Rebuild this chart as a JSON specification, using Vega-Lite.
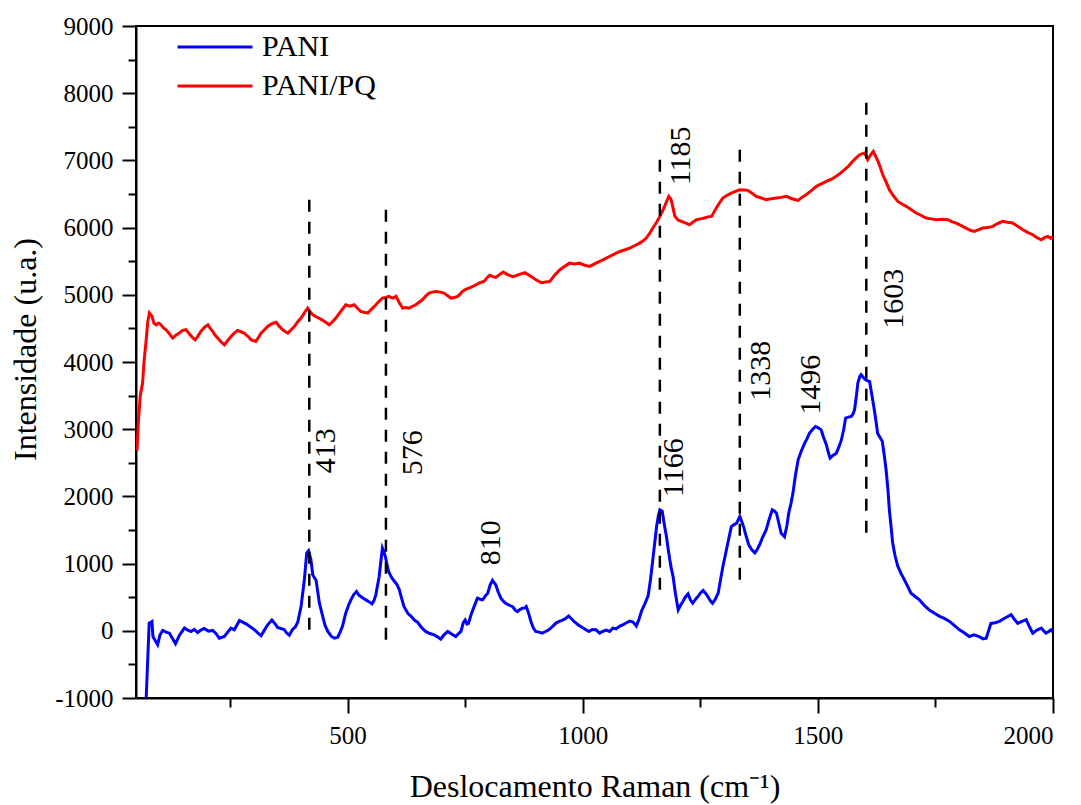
{
  "$schema": "https://vega.github.io/schema/vega-lite/v6.json",
  "autosize": "none",
  "padding": {"left": 136, "top": 26, "right": 28, "bottom": 107},
  "width": 917,
  "height": 672,
  "config": {
    "font": "Liberation Serif",
    "view": {"stroke": "black", "strokeWidth": 2},
    "axis": {
      "grid": false,
      "domainColor": "black",
      "domainWidth": 2,
      "tickColor": "black",
      "tickWidth": 2,
      "labelFont": "Liberation Serif",
      "labelFontSize": 25,
      "labelColor": "black",
      "titleFont": "Liberation Serif",
      "titleFontSize": 32,
      "titleFontWeight": "normal",
      "titleColor": "black"
    }
  },
  "datasets": {
    "spectra": [
      {"s":"PANI","x":70,"y":-1300},{"s":"PANI","x":78,"y":115},{"s":"PANI","x":84,"y":138},{"s":"PANI","x":86,"y":-85},{"s":"PANI","x":96,"y":-208},{"s":"PANI","x":101,"y":-60},{"s":"PANI","x":107,"y":5},{"s":"PANI","x":114,"y":-20},{"s":"PANI","x":121,"y":-35},{"s":"PANI","x":128,"y":-120},{"s":"PANI","x":134,"y":-193},{"s":"PANI","x":142,"y":-70},{"s":"PANI","x":153,"y":40},{"s":"PANI","x":160,"y":10},{"s":"PANI","x":167,"y":-10},{"s":"PANI","x":174,"y":20},{"s":"PANI","x":181,"y":-25},{"s":"PANI","x":188,"y":10},{"s":"PANI","x":195,"y":35},{"s":"PANI","x":204,"y":-5},{"s":"PANI","x":213,"y":5},{"s":"PANI","x":220,"y":-40},{"s":"PANI","x":227,"y":-109},{"s":"PANI","x":238,"y":-85},{"s":"PANI","x":245,"y":-20},{"s":"PANI","x":252,"y":40},{"s":"PANI","x":259,"y":15},{"s":"PANI","x":265,"y":90},{"s":"PANI","x":270,"y":153},{"s":"PANI","x":277,"y":130},{"s":"PANI","x":284,"y":104},{"s":"PANI","x":293,"y":60},{"s":"PANI","x":302,"y":15},{"s":"PANI","x":309,"y":-30},{"s":"PANI","x":316,"y":-74},{"s":"PANI","x":323,"y":10},{"s":"PANI","x":330,"y":89},{"s":"PANI","x":339,"y":160},{"s":"PANI","x":345,"y":110},{"s":"PANI","x":351,"y":50},{"s":"PANI","x":358,"y":35},{"s":"PANI","x":365,"y":20},{"s":"PANI","x":370,"y":-30},{"s":"PANI","x":376,"y":-65},{"s":"PANI","x":383,"y":20},{"s":"PANI","x":389,"y":60},{"s":"PANI","x":394,"y":130},{"s":"PANI","x":401,"y":362},{"s":"PANI","x":408,"y":759},{"s":"PANI","x":413,"y":1156},{"s":"PANI","x":417,"y":1190},{"s":"PANI","x":422,"y":1057},{"s":"PANI","x":426,"y":830},{"s":"PANI","x":433,"y":750},{"s":"PANI","x":440,"y":412},{"s":"PANI","x":447,"y":215},{"s":"PANI","x":452,"y":80},{"s":"PANI","x":458,"y":-10},{"s":"PANI","x":465,"y":-80},{"s":"PANI","x":472,"y":-110},{"s":"PANI","x":479,"y":-95},{"s":"PANI","x":484,"y":-20},{"s":"PANI","x":489,"y":65},{"s":"PANI","x":496,"y":263},{"s":"PANI","x":502,"y":380},{"s":"PANI","x":507,"y":461},{"s":"PANI","x":513,"y":540},{"s":"PANI","x":519,"y":585},{"s":"PANI","x":524,"y":530},{"s":"PANI","x":528,"y":510},{"s":"PANI","x":534,"y":480},{"s":"PANI","x":539,"y":460},{"s":"PANI","x":546,"y":430},{"s":"PANI","x":552,"y":400},{"s":"PANI","x":556,"y":450},{"s":"PANI","x":560,"y":535},{"s":"PANI","x":567,"y":805},{"s":"PANI","x":571,"y":1050},{"s":"PANI","x":574,"y":1231},{"s":"PANI","x":577,"y":1180},{"s":"PANI","x":580,"y":1110},{"s":"PANI","x":587,"y":885},{"s":"PANI","x":593,"y":800},{"s":"PANI","x":599,"y":740},{"s":"PANI","x":605,"y":690},{"s":"PANI","x":610,"y":610},{"s":"PANI","x":615,"y":480},{"s":"PANI","x":620,"y":360},{"s":"PANI","x":628,"y":260},{"s":"PANI","x":635,"y":215},{"s":"PANI","x":642,"y":160},{"s":"PANI","x":649,"y":125},{"s":"PANI","x":657,"y":50},{"s":"PANI","x":666,"y":-10},{"s":"PANI","x":675,"y":-40},{"s":"PANI","x":684,"y":-60},{"s":"PANI","x":691,"y":-90},{"s":"PANI","x":698,"y":-125},{"s":"PANI","x":705,"y":-60},{"s":"PANI","x":713,"y":-10},{"s":"PANI","x":722,"y":-50},{"s":"PANI","x":730,"y":-85},{"s":"PANI","x":736,"y":-40},{"s":"PANI","x":741,"y":-10},{"s":"PANI","x":746,"y":120},{"s":"PANI","x":750,"y":160},{"s":"PANI","x":754,"y":100},{"s":"PANI","x":757,"y":110},{"s":"PANI","x":763,"y":250},{"s":"PANI","x":769,"y":360},{"s":"PANI","x":776,"y":485},{"s":"PANI","x":782,"y":470},{"s":"PANI","x":787,"y":460},{"s":"PANI","x":793,"y":520},{"s":"PANI","x":798,"y":560},{"s":"PANI","x":803,"y":680},{"s":"PANI","x":808,"y":750},{"s":"PANI","x":815,"y":685},{"s":"PANI","x":820,"y":580},{"s":"PANI","x":826,"y":485},{"s":"PANI","x":831,"y":440},{"s":"PANI","x":836,"y":410},{"s":"PANI","x":844,"y":380},{"s":"PANI","x":851,"y":360},{"s":"PANI","x":856,"y":310},{"s":"PANI","x":861,"y":285},{"s":"PANI","x":867,"y":320},{"s":"PANI","x":872,"y":335},{"s":"PANI","x":877,"y":340},{"s":"PANI","x":880,"y":360},{"s":"PANI","x":885,"y":260},{"s":"PANI","x":890,"y":135},{"s":"PANI","x":895,"y":40},{"s":"PANI","x":900,"y":-10},{"s":"PANI","x":907,"y":-20},{"s":"PANI","x":914,"y":-35},{"s":"PANI","x":921,"y":-10},{"s":"PANI","x":928,"y":15},{"s":"PANI","x":935,"y":60},{"s":"PANI","x":943,"y":115},{"s":"PANI","x":950,"y":140},{"s":"PANI","x":957,"y":160},{"s":"PANI","x":963,"y":180},{"s":"PANI","x":970,"y":220},{"s":"PANI","x":976,"y":180},{"s":"PANI","x":982,"y":135},{"s":"PANI","x":990,"y":90},{"s":"PANI","x":999,"y":50},{"s":"PANI","x":1006,"y":20},{"s":"PANI","x":1013,"y":-10},{"s":"PANI","x":1020,"y":20},{"s":"PANI","x":1028,"y":15},{"s":"PANI","x":1036,"y":-35},{"s":"PANI","x":1042,"y":-10},{"s":"PANI","x":1050,"y":10},{"s":"PANI","x":1057,"y":-10},{"s":"PANI","x":1064,"y":40},{"s":"PANI","x":1071,"y":30},{"s":"PANI","x":1079,"y":70},{"s":"PANI","x":1086,"y":90},{"s":"PANI","x":1093,"y":120},{"s":"PANI","x":1100,"y":145},{"s":"PANI","x":1107,"y":130},{"s":"PANI","x":1114,"y":70},{"s":"PANI","x":1120,"y":180},{"s":"PANI","x":1125,"y":295},{"s":"PANI","x":1132,"y":400},{"s":"PANI","x":1139,"y":520},{"s":"PANI","x":1144,"y":760},{"s":"PANI","x":1149,"y":1060},{"s":"PANI","x":1153,"y":1300},{"s":"PANI","x":1157,"y":1552},{"s":"PANI","x":1161,"y":1720},{"s":"PANI","x":1164,"y":1801},{"s":"PANI","x":1169,"y":1780},{"s":"PANI","x":1173,"y":1600},{"s":"PANI","x":1178,"y":1403},{"s":"PANI","x":1181,"y":1250},{"s":"PANI","x":1185,"y":1060},{"s":"PANI","x":1188,"y":940},{"s":"PANI","x":1192,"y":810},{"s":"PANI","x":1197,"y":560},{"s":"PANI","x":1203,"y":312},{"s":"PANI","x":1208,"y":380},{"s":"PANI","x":1213,"y":435},{"s":"PANI","x":1218,"y":500},{"s":"PANI","x":1224,"y":550},{"s":"PANI","x":1229,"y":460},{"s":"PANI","x":1234,"y":410},{"s":"PANI","x":1240,"y":470},{"s":"PANI","x":1245,"y":510},{"s":"PANI","x":1250,"y":560},{"s":"PANI","x":1256,"y":600},{"s":"PANI","x":1261,"y":560},{"s":"PANI","x":1266,"y":510},{"s":"PANI","x":1271,"y":450},{"s":"PANI","x":1276,"y":410},{"s":"PANI","x":1282,"y":470},{"s":"PANI","x":1288,"y":560},{"s":"PANI","x":1293,"y":760},{"s":"PANI","x":1298,"y":957},{"s":"PANI","x":1303,"y":1120},{"s":"PANI","x":1307,"y":1255},{"s":"PANI","x":1312,"y":1420},{"s":"PANI","x":1316,"y":1550},{"s":"PANI","x":1322,"y":1580},{"s":"PANI","x":1327,"y":1600},{"s":"PANI","x":1334,"y":1701},{"s":"PANI","x":1338,"y":1630},{"s":"PANI","x":1342,"y":1550},{"s":"PANI","x":1347,"y":1420},{"s":"PANI","x":1353,"y":1280},{"s":"PANI","x":1360,"y":1200},{"s":"PANI","x":1366,"y":1160},{"s":"PANI","x":1371,"y":1210},{"s":"PANI","x":1376,"y":1280},{"s":"PANI","x":1383,"y":1400},{"s":"PANI","x":1390,"y":1500},{"s":"PANI","x":1396,"y":1650},{"s":"PANI","x":1403,"y":1800},{"s":"PANI","x":1408,"y":1780},{"s":"PANI","x":1412,"y":1750},{"s":"PANI","x":1417,"y":1600},{"s":"PANI","x":1422,"y":1450},{"s":"PANI","x":1429,"y":1400},{"s":"PANI","x":1434,"y":1560},{"s":"PANI","x":1438,"y":1750},{"s":"PANI","x":1443,"y":1900},{"s":"PANI","x":1447,"y":2049},{"s":"PANI","x":1452,"y":2300},{"s":"PANI","x":1458,"y":2545},{"s":"PANI","x":1465,"y":2680},{"s":"PANI","x":1472,"y":2793},{"s":"PANI","x":1477,"y":2860},{"s":"PANI","x":1482,"y":2940},{"s":"PANI","x":1489,"y":3000},{"s":"PANI","x":1495,"y":3040},{"s":"PANI","x":1501,"y":3020},{"s":"PANI","x":1507,"y":2990},{"s":"PANI","x":1512,"y":2880},{"s":"PANI","x":1518,"y":2770},{"s":"PANI","x":1522,"y":2660},{"s":"PANI","x":1526,"y":2570},{"s":"PANI","x":1532,"y":2610},{"s":"PANI","x":1539,"y":2640},{"s":"PANI","x":1545,"y":2740},{"s":"PANI","x":1550,"y":2840},{"s":"PANI","x":1555,"y":3000},{"s":"PANI","x":1559,"y":3165},{"s":"PANI","x":1565,"y":3180},{"s":"PANI","x":1571,"y":3190},{"s":"PANI","x":1575,"y":3230},{"s":"PANI","x":1578,"y":3290},{"s":"PANI","x":1582,"y":3500},{"s":"PANI","x":1585,"y":3686},{"s":"PANI","x":1589,"y":3780},{"s":"PANI","x":1592,"y":3810},{"s":"PANI","x":1597,"y":3770},{"s":"PANI","x":1601,"y":3740},{"s":"PANI","x":1606,"y":3720},{"s":"PANI","x":1610,"y":3710},{"s":"PANI","x":1615,"y":3500},{"s":"PANI","x":1620,"y":3290},{"s":"PANI","x":1624,"y":3100},{"s":"PANI","x":1627,"y":2940},{"s":"PANI","x":1632,"y":2880},{"s":"PANI","x":1637,"y":2820},{"s":"PANI","x":1641,"y":2620},{"s":"PANI","x":1645,"y":2400},{"s":"PANI","x":1649,"y":2100},{"s":"PANI","x":1652,"y":1800},{"s":"PANI","x":1656,"y":1530},{"s":"PANI","x":1659,"y":1310},{"s":"PANI","x":1664,"y":1120},{"s":"PANI","x":1670,"y":960},{"s":"PANI","x":1677,"y":850},{"s":"PANI","x":1684,"y":760},{"s":"PANI","x":1691,"y":660},{"s":"PANI","x":1698,"y":560},{"s":"PANI","x":1707,"y":510},{"s":"PANI","x":1716,"y":460},{"s":"PANI","x":1726,"y":380},{"s":"PANI","x":1737,"y":310},{"s":"PANI","x":1748,"y":260},{"s":"PANI","x":1759,"y":215},{"s":"PANI","x":1770,"y":180},{"s":"PANI","x":1780,"y":140},{"s":"PANI","x":1790,"y":80},{"s":"PANI","x":1801,"y":15},{"s":"PANI","x":1811,"y":-30},{"s":"PANI","x":1822,"y":-85},{"s":"PANI","x":1832,"y":-60},{"s":"PANI","x":1843,"y":-85},{"s":"PANI","x":1851,"y":-120},{"s":"PANI","x":1858,"y":-110},{"s":"PANI","x":1863,"y":0},{"s":"PANI","x":1868,"y":110},{"s":"PANI","x":1877,"y":120},{"s":"PANI","x":1886,"y":140},{"s":"PANI","x":1898,"y":190},{"s":"PANI","x":1911,"y":240},{"s":"PANI","x":1918,"y":170},{"s":"PANI","x":1925,"y":110},{"s":"PANI","x":1934,"y":140},{"s":"PANI","x":1943,"y":165},{"s":"PANI","x":1950,"y":60},{"s":"PANI","x":1957,"y":-35},{"s":"PANI","x":1966,"y":10},{"s":"PANI","x":1975,"y":40},{"s":"PANI","x":1980,"y":0},{"s":"PANI","x":1985,"y":-35},{"s":"PANI","x":1991,"y":-10},{"s":"PANI","x":1996,"y":15},{"s":"PANI","x":2000,"y":-20},
      {"s":"PANI/PQ","x":52,"y":2680},{"s":"PANI/PQ","x":55,"y":3100},{"s":"PANI/PQ","x":59,"y":3500},{"s":"PANI/PQ","x":64,"y":3686},{"s":"PANI/PQ","x":67,"y":4000},{"s":"PANI/PQ","x":71,"y":4281},{"s":"PANI/PQ","x":75,"y":4600},{"s":"PANI/PQ","x":78.5,"y":4728},{"s":"PANI/PQ","x":84,"y":4680},{"s":"PANI/PQ","x":88,"y":4580},{"s":"PANI/PQ","x":93,"y":4554},{"s":"PANI/PQ","x":98,"y":4580},{"s":"PANI/PQ","x":103,"y":4554},{"s":"PANI/PQ","x":108,"y":4510},{"s":"PANI/PQ","x":114,"y":4480},{"s":"PANI/PQ","x":121,"y":4420},{"s":"PANI/PQ","x":128,"y":4355},{"s":"PANI/PQ","x":135,"y":4400},{"s":"PANI/PQ","x":142,"y":4430},{"s":"PANI/PQ","x":149,"y":4470},{"s":"PANI/PQ","x":156,"y":4480},{"s":"PANI/PQ","x":161,"y":4440},{"s":"PANI/PQ","x":165,"y":4405},{"s":"PANI/PQ","x":171,"y":4360},{"s":"PANI/PQ","x":176,"y":4330},{"s":"PANI/PQ","x":182,"y":4390},{"s":"PANI/PQ","x":188,"y":4455},{"s":"PANI/PQ","x":196,"y":4520},{"s":"PANI/PQ","x":203,"y":4554},{"s":"PANI/PQ","x":208,"y":4500},{"s":"PANI/PQ","x":213,"y":4455},{"s":"PANI/PQ","x":218,"y":4400},{"s":"PANI/PQ","x":224,"y":4355},{"s":"PANI/PQ","x":231,"y":4300},{"s":"PANI/PQ","x":238,"y":4256},{"s":"PANI/PQ","x":245,"y":4320},{"s":"PANI/PQ","x":252,"y":4380},{"s":"PANI/PQ","x":259,"y":4430},{"s":"PANI/PQ","x":266,"y":4470},{"s":"PANI/PQ","x":273,"y":4450},{"s":"PANI/PQ","x":280,"y":4430},{"s":"PANI/PQ","x":288,"y":4380},{"s":"PANI/PQ","x":295,"y":4330},{"s":"PANI/PQ","x":305,"y":4306},{"s":"PANI/PQ","x":310,"y":4360},{"s":"PANI/PQ","x":316,"y":4430},{"s":"PANI/PQ","x":323,"y":4480},{"s":"PANI/PQ","x":330,"y":4530},{"s":"PANI/PQ","x":339,"y":4570},{"s":"PANI/PQ","x":348,"y":4590},{"s":"PANI/PQ","x":355,"y":4530},{"s":"PANI/PQ","x":362,"y":4480},{"s":"PANI/PQ","x":368,"y":4450},{"s":"PANI/PQ","x":373,"y":4430},{"s":"PANI/PQ","x":380,"y":4480},{"s":"PANI/PQ","x":387,"y":4530},{"s":"PANI/PQ","x":394,"y":4600},{"s":"PANI/PQ","x":401,"y":4653},{"s":"PANI/PQ","x":408,"y":4730},{"s":"PANI/PQ","x":415,"y":4802},{"s":"PANI/PQ","x":420,"y":4750},{"s":"PANI/PQ","x":426,"y":4703},{"s":"PANI/PQ","x":434,"y":4670},{"s":"PANI/PQ","x":443,"y":4638},{"s":"PANI/PQ","x":452,"y":4600},{"s":"PANI/PQ","x":461,"y":4554},{"s":"PANI/PQ","x":468,"y":4600},{"s":"PANI/PQ","x":475,"y":4653},{"s":"PANI/PQ","x":485,"y":4750},{"s":"PANI/PQ","x":496,"y":4852},{"s":"PANI/PQ","x":505,"y":4830},{"s":"PANI/PQ","x":514,"y":4852},{"s":"PANI/PQ","x":521,"y":4800},{"s":"PANI/PQ","x":528,"y":4752},{"s":"PANI/PQ","x":535,"y":4740},{"s":"PANI/PQ","x":543,"y":4728},{"s":"PANI/PQ","x":550,"y":4780},{"s":"PANI/PQ","x":557,"y":4827},{"s":"PANI/PQ","x":565,"y":4890},{"s":"PANI/PQ","x":574,"y":4951},{"s":"PANI/PQ","x":581,"y":4960},{"s":"PANI/PQ","x":588,"y":4976},{"s":"PANI/PQ","x":596,"y":4950},{"s":"PANI/PQ","x":603,"y":4976},{"s":"PANI/PQ","x":610,"y":4880},{"s":"PANI/PQ","x":617,"y":4802},{"s":"PANI/PQ","x":624,"y":4810},{"s":"PANI/PQ","x":631,"y":4802},{"s":"PANI/PQ","x":638,"y":4830},{"s":"PANI/PQ","x":645,"y":4852},{"s":"PANI/PQ","x":652,"y":4890},{"s":"PANI/PQ","x":659,"y":4926},{"s":"PANI/PQ","x":666,"y":4980},{"s":"PANI/PQ","x":673,"y":5026},{"s":"PANI/PQ","x":680,"y":5040},{"s":"PANI/PQ","x":688,"y":5050},{"s":"PANI/PQ","x":697,"y":5040},{"s":"PANI/PQ","x":705,"y":5026},{"s":"PANI/PQ","x":712,"y":4990},{"s":"PANI/PQ","x":720,"y":4951},{"s":"PANI/PQ","x":727,"y":4960},{"s":"PANI/PQ","x":734,"y":4976},{"s":"PANI/PQ","x":739,"y":5010},{"s":"PANI/PQ","x":744,"y":5050},{"s":"PANI/PQ","x":751,"y":5080},{"s":"PANI/PQ","x":758,"y":5100},{"s":"PANI/PQ","x":765,"y":5120},{"s":"PANI/PQ","x":773,"y":5150},{"s":"PANI/PQ","x":781,"y":5180},{"s":"PANI/PQ","x":790,"y":5200},{"s":"PANI/PQ","x":796,"y":5250},{"s":"PANI/PQ","x":802,"y":5290},{"s":"PANI/PQ","x":809,"y":5270},{"s":"PANI/PQ","x":815,"y":5260},{"s":"PANI/PQ","x":823,"y":5300},{"s":"PANI/PQ","x":831,"y":5340},{"s":"PANI/PQ","x":840,"y":5300},{"s":"PANI/PQ","x":852,"y":5270},{"s":"PANI/PQ","x":864,"y":5300},{"s":"PANI/PQ","x":877,"y":5330},{"s":"PANI/PQ","x":886,"y":5290},{"s":"PANI/PQ","x":895,"y":5250},{"s":"PANI/PQ","x":904,"y":5210},{"s":"PANI/PQ","x":912,"y":5180},{"s":"PANI/PQ","x":921,"y":5190},{"s":"PANI/PQ","x":930,"y":5200},{"s":"PANI/PQ","x":940,"y":5290},{"s":"PANI/PQ","x":951,"y":5370},{"s":"PANI/PQ","x":961,"y":5420},{"s":"PANI/PQ","x":972,"y":5471},{"s":"PANI/PQ","x":982,"y":5460},{"s":"PANI/PQ","x":993,"y":5471},{"s":"PANI/PQ","x":1004,"y":5440},{"s":"PANI/PQ","x":1015,"y":5422},{"s":"PANI/PQ","x":1025,"y":5460},{"s":"PANI/PQ","x":1036,"y":5496},{"s":"PANI/PQ","x":1046,"y":5530},{"s":"PANI/PQ","x":1057,"y":5570},{"s":"PANI/PQ","x":1068,"y":5610},{"s":"PANI/PQ","x":1079,"y":5645},{"s":"PANI/PQ","x":1090,"y":5670},{"s":"PANI/PQ","x":1100,"y":5695},{"s":"PANI/PQ","x":1110,"y":5730},{"s":"PANI/PQ","x":1121,"y":5769},{"s":"PANI/PQ","x":1128,"y":5800},{"s":"PANI/PQ","x":1135,"y":5844},{"s":"PANI/PQ","x":1142,"y":5910},{"s":"PANI/PQ","x":1149,"y":5993},{"s":"PANI/PQ","x":1157,"y":6080},{"s":"PANI/PQ","x":1164,"y":6167},{"s":"PANI/PQ","x":1170,"y":6250},{"s":"PANI/PQ","x":1174,"y":6316},{"s":"PANI/PQ","x":1179,"y":6400},{"s":"PANI/PQ","x":1183,"y":6465},{"s":"PANI/PQ","x":1186,"y":6440},{"s":"PANI/PQ","x":1188,"y":6415},{"s":"PANI/PQ","x":1192,"y":6290},{"s":"PANI/PQ","x":1196,"y":6167},{"s":"PANI/PQ","x":1203,"y":6110},{"s":"PANI/PQ","x":1210,"y":6093},{"s":"PANI/PQ","x":1218,"y":6070},{"s":"PANI/PQ","x":1227,"y":6043},{"s":"PANI/PQ","x":1234,"y":6080},{"s":"PANI/PQ","x":1242,"y":6118},{"s":"PANI/PQ","x":1250,"y":6130},{"s":"PANI/PQ","x":1259,"y":6143},{"s":"PANI/PQ","x":1266,"y":6160},{"s":"PANI/PQ","x":1274,"y":6167},{"s":"PANI/PQ","x":1279,"y":6230},{"s":"PANI/PQ","x":1284,"y":6292},{"s":"PANI/PQ","x":1291,"y":6370},{"s":"PANI/PQ","x":1298,"y":6440},{"s":"PANI/PQ","x":1307,"y":6480},{"s":"PANI/PQ","x":1316,"y":6515},{"s":"PANI/PQ","x":1325,"y":6540},{"s":"PANI/PQ","x":1334,"y":6564},{"s":"PANI/PQ","x":1342,"y":6560},{"s":"PANI/PQ","x":1351,"y":6554},{"s":"PANI/PQ","x":1360,"y":6510},{"s":"PANI/PQ","x":1369,"y":6465},{"s":"PANI/PQ","x":1380,"y":6440},{"s":"PANI/PQ","x":1390,"y":6415},{"s":"PANI/PQ","x":1401,"y":6430},{"s":"PANI/PQ","x":1412,"y":6440},{"s":"PANI/PQ","x":1422,"y":6450},{"s":"PANI/PQ","x":1433,"y":6465},{"s":"PANI/PQ","x":1445,"y":6430},{"s":"PANI/PQ","x":1458,"y":6405},{"s":"PANI/PQ","x":1466,"y":6450},{"s":"PANI/PQ","x":1475,"y":6490},{"s":"PANI/PQ","x":1486,"y":6550},{"s":"PANI/PQ","x":1497,"y":6614},{"s":"PANI/PQ","x":1507,"y":6650},{"s":"PANI/PQ","x":1518,"y":6688},{"s":"PANI/PQ","x":1529,"y":6720},{"s":"PANI/PQ","x":1539,"y":6763},{"s":"PANI/PQ","x":1548,"y":6810},{"s":"PANI/PQ","x":1557,"y":6862},{"s":"PANI/PQ","x":1566,"y":6920},{"s":"PANI/PQ","x":1574,"y":6986},{"s":"PANI/PQ","x":1582,"y":7040},{"s":"PANI/PQ","x":1589,"y":7085},{"s":"PANI/PQ","x":1595,"y":7100},{"s":"PANI/PQ","x":1599,"y":7110},{"s":"PANI/PQ","x":1603,"y":7060},{"s":"PANI/PQ","x":1606,"y":7011},{"s":"PANI/PQ","x":1612,"y":7080},{"s":"PANI/PQ","x":1618,"y":7135},{"s":"PANI/PQ","x":1623,"y":7060},{"s":"PANI/PQ","x":1628,"y":6986},{"s":"PANI/PQ","x":1633,"y":6890},{"s":"PANI/PQ","x":1638,"y":6788},{"s":"PANI/PQ","x":1645,"y":6680},{"s":"PANI/PQ","x":1652,"y":6564},{"s":"PANI/PQ","x":1661,"y":6470},{"s":"PANI/PQ","x":1670,"y":6390},{"s":"PANI/PQ","x":1679,"y":6350},{"s":"PANI/PQ","x":1688,"y":6316},{"s":"PANI/PQ","x":1698,"y":6270},{"s":"PANI/PQ","x":1709,"y":6217},{"s":"PANI/PQ","x":1720,"y":6180},{"s":"PANI/PQ","x":1730,"y":6143},{"s":"PANI/PQ","x":1741,"y":6130},{"s":"PANI/PQ","x":1752,"y":6118},{"s":"PANI/PQ","x":1764,"y":6125},{"s":"PANI/PQ","x":1776,"y":6118},{"s":"PANI/PQ","x":1785,"y":6090},{"s":"PANI/PQ","x":1794,"y":6068},{"s":"PANI/PQ","x":1805,"y":6030},{"s":"PANI/PQ","x":1815,"y":5993},{"s":"PANI/PQ","x":1824,"y":5960},{"s":"PANI/PQ","x":1833,"y":5943},{"s":"PANI/PQ","x":1842,"y":5970},{"s":"PANI/PQ","x":1851,"y":5993},{"s":"PANI/PQ","x":1861,"y":6000},{"s":"PANI/PQ","x":1872,"y":6018},{"s":"PANI/PQ","x":1882,"y":6060},{"s":"PANI/PQ","x":1893,"y":6093},{"s":"PANI/PQ","x":1903,"y":6080},{"s":"PANI/PQ","x":1914,"y":6068},{"s":"PANI/PQ","x":1925,"y":6020},{"s":"PANI/PQ","x":1936,"y":5968},{"s":"PANI/PQ","x":1946,"y":5930},{"s":"PANI/PQ","x":1957,"y":5894},{"s":"PANI/PQ","x":1966,"y":5850},{"s":"PANI/PQ","x":1975,"y":5819},{"s":"PANI/PQ","x":1982,"y":5850},{"s":"PANI/PQ","x":1989,"y":5869},{"s":"PANI/PQ","x":1995,"y":5840},{"s":"PANI/PQ","x":2000,"y":5860}
    ],
    "rules": [
      {"x":418.5,"y1":15,"y2":6460},
      {"x":581.5,"y1":-134,"y2":6310},
      {"x":1164,"y1":610,"y2":7054},
      {"x":1334,"y1":760,"y2":7200},
      {"x":1603,"y1":1460,"y2":7930}
    ],
    "labels": [
      {"t":"413","x":454,"y":2679},
      {"t":"576","x":640,"y":2649},
      {"t":"810","x":805,"y":1310},
      {"t":"1166","x":1193,"y":2426},
      {"t":"1185","x":1208,"y":7068},
      {"t":"1338","x":1378,"y":3869},
      {"t":"1496","x":1485,"y":3661},
      {"t":"1603","x":1661,"y":4940}
    ]
  },
  "layer": [
    {
      "data": {"name": "spectra"},
      "mark": {"type": "line", "strokeWidth": 3, "clip": true},
      "encoding": {
        "x": {
          "field": "x", "type": "quantitative",
          "scale": {"domain": [50, 2000], "nice": false, "zero": false},
          "axis": {
            "orient": "bottom",
            "values": [500, 1000, 1500, 2000],
            "tickSize": 15,
            "labelPadding": 10,
            "labelExpr": "'' + datum.value",
            "title": "Deslocamento Raman (cm⁻¹)",
            "titleY": 98,
            "titleBaseline": "alphabetic"
          }
        },
        "y": {
          "field": "y", "type": "quantitative",
          "scale": {"domain": [-1000, 9000], "nice": false, "zero": false},
          "axis": {
            "orient": "left",
            "values": [-1000, 0, 1000, 2000, 3000, 4000, 5000, 6000, 7000, 8000, 9000],
            "tickSize": 14,
            "labelPadding": 9,
            "labelExpr": "'' + datum.value",
            "title": "Intensidade (u.a.)",
            "titleAngle": 270,
            "titleX": -111,
            "titleY": 323,
            "titleAlign": "center",
            "titleBaseline": "middle"
          }
        },
        "color": {
          "field": "s", "type": "nominal",
          "scale": {"domain": ["PANI", "PANI/PQ"], "range": ["#0000FF", "#FF0000"]},
          "legend": {
            "orient": "none",
            "legendX": 64,
            "legendY": 6,
            "title": null,
            "symbolType": "M-3,0H3",
            "symbolSize": 625,
            "symbolStrokeWidth": 3,
            "labelFont": "Liberation Serif",
            "labelFontSize": 30,
            "labelColor": "black",
            "labelOffset": 32,
            "rowPadding": 9
          }
        }
      }
    },
    {
      "data": {"name": "rules"},
      "mark": {"type": "rule", "color": "black", "strokeWidth": 2.5, "strokeDash": [12, 10]},
      "encoding": {
        "x": {
          "field": "x", "type": "quantitative",
          "scale": {"domain": [50, 2000], "nice": false, "zero": false},
          "axis": {"orient": "bottom", "values": [250, 750, 1250, 1750], "tickSize": 9, "labels": false, "domain": false, "title": null}
        },
        "y": {
          "field": "y1", "type": "quantitative",
          "scale": {"domain": [-1000, 9000], "nice": false, "zero": false},
          "axis": {"orient": "left", "values": [-500, 500, 1500, 2500, 3500, 4500, 5500, 6500, 7500, 8500], "tickSize": 8, "labels": false, "domain": false, "title": null}
        },
        "y2": {"field": "y2"}
      }
    },
    {
      "data": {"name": "labels"},
      "mark": {"type": "text", "angle": 270, "fontSize": 30, "font": "Liberation Serif", "align": "center", "baseline": "middle", "color": "black"},
      "encoding": {
        "x": {"field": "x", "type": "quantitative", "scale": {"domain": [50, 2000], "nice": false, "zero": false}, "axis": null},
        "y": {"field": "y", "type": "quantitative", "scale": {"domain": [-1000, 9000], "nice": false, "zero": false}, "axis": null},
        "text": {"field": "t"}
      }
    }
  ],
  "resolve": {"axis": {"x": "independent", "y": "independent"}}
}
